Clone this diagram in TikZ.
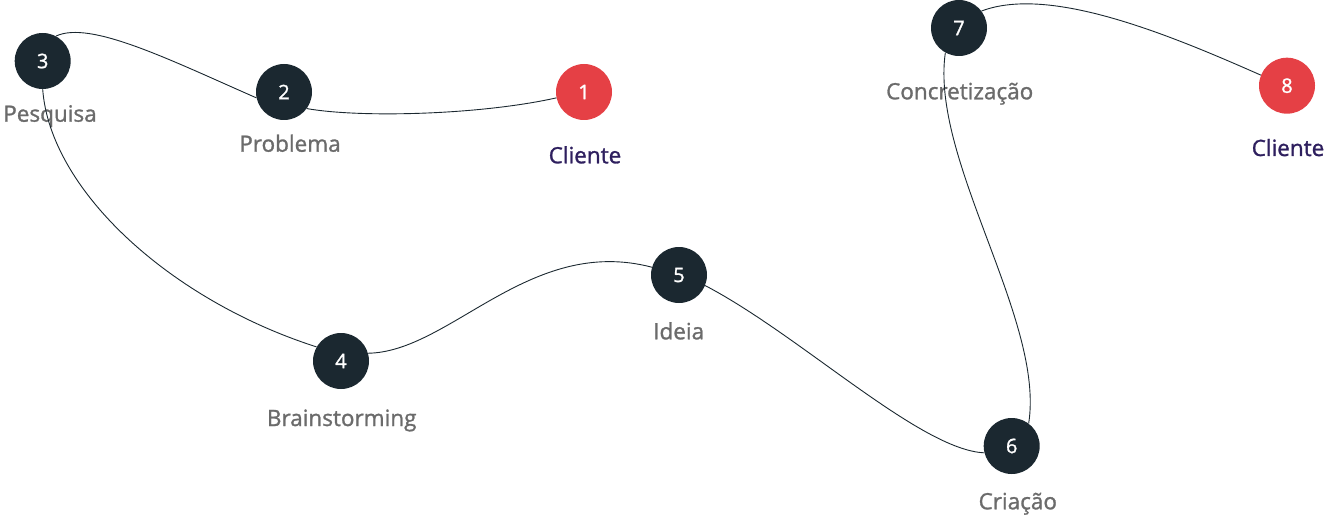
\documentclass[tikz,border=0pt]{standalone}
\usepackage{fontspec}
\setmainfont{Open Sans}
\newfontfamily\medfont{Open Sans}[FakeBold=1.2]
\definecolor{dark}{RGB}{27,40,48}
\definecolor{redc}{RGB}{229,64,69}
\definecolor{purp}{RGB}{46,31,94}
\definecolor{grayt}{RGB}{107,107,107}
\begin{document}
\begin{tikzpicture}[x=1pt,y=-1pt,
  stepnode/.style={circle,fill=dark,minimum size=56pt,inner sep=0pt,text=white,font=\medfont\fontsize{20}{24}\selectfont},
  clientnode/.style={stepnode,fill=redc},
  steplabel/.style={anchor=base,inner sep=0pt,text=grayt,font=\medfont\fontsize{22.5}{26}\selectfont},
  clientlabel/.style={steplabel,text=purp},
  link/.style={draw=dark,line width=0.9pt}]
\useasboundingbox (0,0) rectangle (1326,516);
\node[clientnode] (n1) at (584,92) {1};
\node[stepnode] (n2) at (284,92) {2};
\node[stepnode] (n3) at (42.7,61) {3};
\node[stepnode] (n4) at (341,361) {4};
\node[stepnode] (n5) at (679,275) {5};
\node[stepnode] (n6) at (1011.7,446) {6};
\node[stepnode] (n7) at (959,28) {7};
\node[clientnode] (n8) at (1287,85.7) {8};
\node[clientlabel] (l1) at (585,163.3) {Cliente};
\node[steplabel] (l2) at (290,151.7) {Problema};
\node[steplabel] (l3) at (50,121.7) {Pesquisa};
\node[steplabel] (l4) at (341.7,426) {Brainstorming};
\node[steplabel] (l5) at (678.7,339.3) {Ideia};
\node[steplabel] (l6) at (1017.8,509.3) {Criação};
\node[steplabel] (l7) at (959.7,99.3) {Concretização};
\node[clientlabel] (l8) at (1288,156) {Cliente};
\draw[link] (n1.192) .. controls (480,115) and (360,118) .. (n2.324);
\draw[link] (n2.192) .. controls (170,60) and (90,20) .. (n3.62);
\draw[link] (n3.270) .. controls (50,190) and (170,300) .. (n4.150);
\draw[link] (n4.16) .. controls (450,352) and (530,235) .. (n5.164);
\draw[link] (n5.338) .. controls (800,335) and (920,450) .. (n6.194);
\draw[link] (n6.53) .. controls (1045,320) and (930,160) .. (n7.241);
\draw[link] (n7.37) .. controls (1050,-15) and (1170,35) .. (n8.158);
\end{tikzpicture}
\end{document}
